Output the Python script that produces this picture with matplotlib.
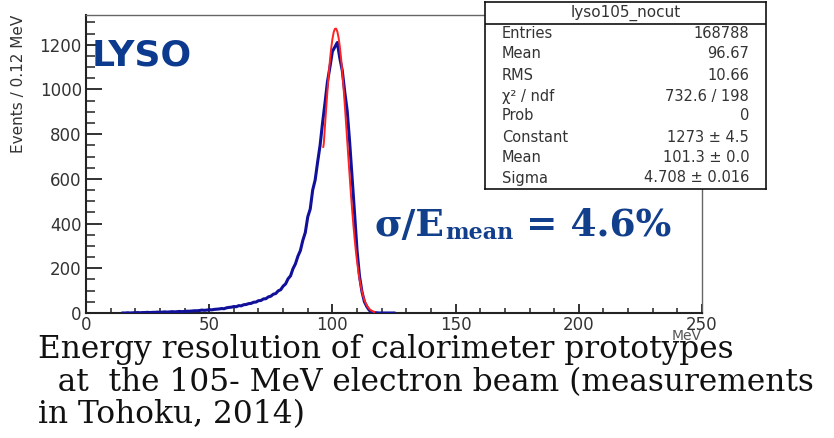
import matplotlib
matplotlib.use("Agg")
import matplotlib.pyplot as plt
from matplotlib.ticker import MultipleLocator

# --- data ---
# blue histogram: bin centres (MeV) and counts
energy = list(range(15, 126))
counts = [0, 0, 1, 0, 1, 1, 2, 1, 2, 2,
          3, 2, 3, 3, 4, 3, 4, 5, 4, 5,
          6, 5, 6, 7, 6, 7, 8, 8, 9, 10,
          10, 11, 13, 12, 13, 15, 14, 16, 17, 18,
          20, 19, 23, 25, 26, 29, 28, 33, 32, 37,
          38, 42, 43, 48, 49, 55, 56, 63, 64, 72,
          75, 84, 87, 99, 104, 120, 130, 153, 166, 198,
          220, 254, 279, 325, 360, 430, 465, 550, 595, 675,
          750, 850, 940, 1035, 1100, 1170, 1190, 1210, 1140, 1085,
          990, 905, 765, 605, 445, 280, 165, 95, 50, 28,
          12, 5, 2, 1, 0, 0, 0, 0, 0, 0, 0]

fit_x = [96.3, 96.5, 97, 97.5, 98, 98.5, 99, 99.5, 100, 100.5, 101, 101.5,
         102, 102.5, 103, 103.5, 104, 104.5, 105, 105.5, 106, 106.5, 107,
         107.5, 108, 108.5, 109, 109.5, 110, 110.5, 111, 111.5, 112, 112.5,
         113, 113.5, 114, 114.5, 115, 115.5, 116, 116.5, 117]
fit_y = [743, 757, 839, 919, 995, 1067, 1130, 1183, 1225, 1255, 1271, 1272,
         1259, 1232, 1193, 1141, 1080, 1010, 935, 855, 773, 692, 612,
         535, 462, 395, 334, 279, 231, 189, 152, 122, 96, 75,
         58, 44, 33, 25, 18, 13, 10, 7, 5]

stat_names = ["Entries", "Mean", "RMS", "\u03c7\u00b2 / ndf", "Prob",
              "Constant", "Mean", "Sigma"]
stat_values = ["168788", "96.67", "10.66", "732.6 / 198", "0",
               "1273 \u00b1 4.5", "101.3 \u00b1 0.0", "4.708 \u00b1 0.016"]

caption = ["Energy resolution of calorimeter prototypes",
           "  at  the 105- MeV electron beam (measurements",
           "in Tohoku, 2014)"]

W, H = 834, 438
fig = plt.figure(figsize=(W / 100, H / 100), dpi=100)
fig.patch.set_facecolor("white")

ax = fig.add_axes([86 / W, 1 - 313 / H, (702 - 86) / W, (313 - 15) / H])
ax.plot(energy, counts, color="#10109a", lw=2.2, zorder=3)
ax.plot(fit_x, fit_y, color="#ff2222", lw=1.4, zorder=4)

ax.set_xlim(0, 250)
ax.set_ylim(0, 1333)
ax.xaxis.set_major_locator(MultipleLocator(50))
ax.xaxis.set_minor_locator(MultipleLocator(10))
ax.yaxis.set_major_locator(MultipleLocator(200))
ax.yaxis.set_minor_locator(MultipleLocator(50))
ax.tick_params(axis="x", which="major", direction="in", length=6.5, width=1.3,
               pad=2, labelsize=12, labelcolor="#333333", color="#222222")
ax.tick_params(axis="x", which="minor", direction="in", length=3.5, width=1.1,
               color="#222222")
ax.tick_params(axis="y", which="major", direction="in", length=11.5, width=1.3,
               pad=3, labelsize=12, labelcolor="#333333", color="#222222")
ax.tick_params(axis="y", which="minor", direction="in", length=6.5, width=1.1,
               color="#222222")
for lab in ax.get_xticklabels() + ax.get_yticklabels():
    lab.set_family("DejaVu Sans")

for s in ["left", "bottom"]:
    ax.spines[s].set_linewidth(1.5)
    ax.spines[s].set_color("#222222")
for s in ["top", "right"]:
    ax.spines[s].set_linewidth(1.0)
    ax.spines[s].set_color("#666666")

ax.set_ylabel("Events / 0.12 MeV", fontsize=11, color="#333333",
              family="DejaVu Sans", loc="top", labelpad=2)
ax.yaxis.set_label_coords(-0.097, 1.0)
fig.text(702 / W, 1 - 336 / H, "MeV", ha="right", va="center", fontsize=10,
         color="#555555", family="DejaVu Sans")

fig.text(92 / W, 1 - 55 / H, "LYSO", fontsize=26, fontweight="bold",
         color="#0b3a8e", family="DejaVu Sans", va="center", ha="left")

# --- stats box ---
box = fig.add_axes([485 / W, 1 - 189 / H, (766 - 485) / W, (189 - 2) / H])
box.set_xticks([])
box.set_yticks([])
box.set_xlim(0, 1)
box.set_ylim(189, 2)
box.set_facecolor("white")
for s in box.spines.values():
    s.set_linewidth(1.2)
    s.set_color("#111111")
box.axhline(24, color="#111111", lw=1.2)
box.text(0.5, 13, "lyso105_nocut", ha="center", va="center", fontsize=11,
         family="DejaVu Sans", color="#333333")
row_y = [33, 54, 76, 97, 116, 137, 157, 178]
for yy, name, val in zip(row_y, stat_names, stat_values):
    box.text(0.06, yy, name, ha="left", va="center", fontsize=10.5,
             family="DejaVu Sans", color="#333333")
    box.text(0.94, yy, val, ha="right", va="center", fontsize=10.5,
             family="DejaVu Sans", color="#333333")

# --- sigma / E_mean annotation ---
blue = "#123f8c"
base = 236
t1 = fig.text(375 / W, 1 - base / H, "\u03c3/E", fontsize=27,
              fontweight="bold", family="DejaVu Serif", color=blue,
              va="baseline", ha="left")
fig.canvas.draw()
r = fig.canvas.get_renderer()
x1 = t1.get_window_extent(r).x1
t2 = fig.text(x1 / W, 1 - (base + 3) / H, "mean", fontsize=16,
              fontweight="bold", family="DejaVu Serif", color=blue,
              va="baseline", ha="left")
fig.canvas.draw()
x2 = t2.get_window_extent(r).x1
fig.text(x2 / W, 1 - base / H, " = 4.6%", fontsize=27, fontweight="bold",
         family="DejaVu Serif", color=blue, va="baseline", ha="left")

# --- caption below the plot ---
cap_x = [38, 38, 38]
cap_base = [358, 391, 423]
for cx, cy, line in zip(cap_x, cap_base, caption):
    fig.text(cx / W, 1 - cy / H, line, fontsize=22.5, family="DejaVu Serif",
             color="#111111", va="baseline", ha="left")

fig.savefig("out.png", dpi=100)
